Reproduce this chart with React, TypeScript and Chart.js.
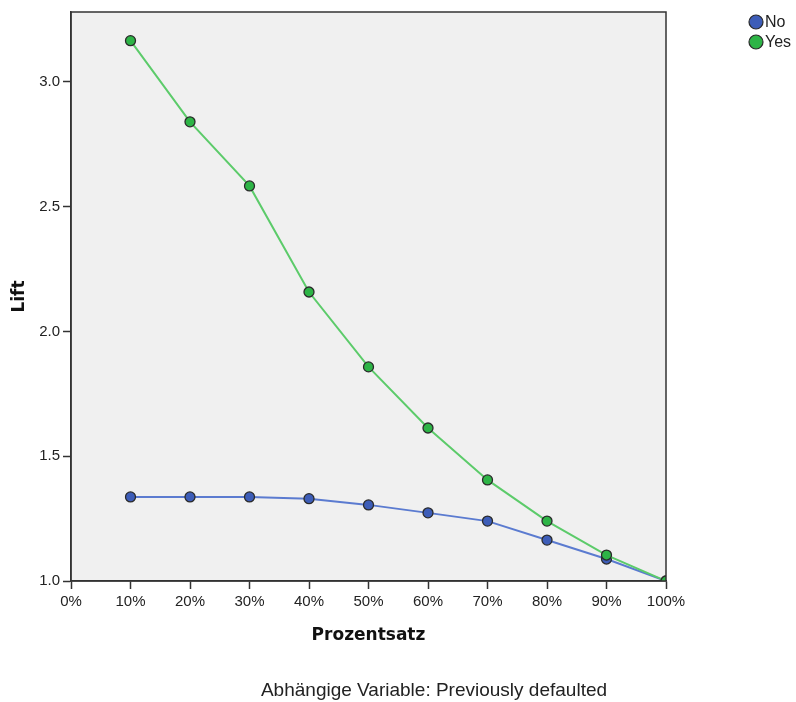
import React, { useEffect, useRef } from "react";
import { Chart, registerables } from "chart.js";

Chart.register(...registerables);

const percentages = [10, 20, 30, 40, 50, 60, 70, 80, 90, 100];
const liftNo = [1.337, 1.337, 1.337, 1.33, 1.305, 1.273, 1.24, 1.164, 1.088, 1.0];
const liftYes = [3.165, 2.84, 2.583, 2.158, 1.858, 1.613, 1.405, 1.24, 1.104, 1.0];
const seriesNames = ["No", "Yes"];
const xTitle = "Prozentsatz";
const yTitle = "Lift";
const footnote = "Abhängige Variable: Previously defaulted";

const blueFill = "#3d5db8";
const blueLine = "#5b7bd0";
const greenFill = "#2db446";
const greenLine = "#5ccb6a";
const pointBorder = "#2a2a2a";

export default function App() {
  const ref = useRef<HTMLCanvasElement | null>(null);

  useEffect(() => {
    if (!ref.current) return;
    const bgPlugin = {
      id: "plotBg",
      beforeDraw(chart: any) {
        const { ctx, chartArea: a } = chart;
        ctx.save();
        ctx.fillStyle = "#f0f0f0";
        ctx.fillRect(a.left, a.top, a.right - a.left, a.bottom - a.top);
        ctx.restore();
      },
      afterDraw(chart: any) {
        const { ctx, chartArea: a } = chart;
        ctx.save();
        ctx.strokeStyle = "#333333";
        ctx.lineWidth = 1.5;
        ctx.strokeRect(a.left, a.top, a.right - a.left, a.bottom - a.top);
        // legend
        const fills = [blueFill, greenFill];
        ctx.font = "16px 'Liberation Sans', Arial, sans-serif";
        ctx.textBaseline = "middle";
        ctx.textAlign = "left";
        seriesNames.forEach((name, i) => {
          const cy = 22 + i * 20;
          ctx.beginPath();
          ctx.arc(756, cy, 7, 0, Math.PI * 2);
          ctx.fillStyle = fills[i];
          ctx.fill();
          ctx.lineWidth = 1.2;
          ctx.strokeStyle = pointBorder;
          ctx.stroke();
          ctx.fillStyle = "#222222";
          ctx.fillText(name, 765, cy + 1);
        });
        // footnote
        ctx.font = "19px 'Liberation Sans', Arial, sans-serif";
        ctx.textAlign = "center";
        ctx.fillStyle = "#222222";
        ctx.fillText(footnote, 434, 691);
        ctx.restore();
      },
    };

    const chart = new Chart(ref.current, {
      type: "line",
      data: {
        datasets: [
          {
            label: seriesNames[0],
            data: percentages.map((p, i) => ({ x: p, y: liftNo[i] })),
            borderColor: blueLine,
            backgroundColor: blueFill,
            pointBackgroundColor: blueFill,
            pointBorderColor: pointBorder,
            pointBorderWidth: 1.3,
            pointRadius: 5,
            borderWidth: 2,
            tension: 0,
            order: 2,
            clip: 0,
          },
          {
            label: seriesNames[1],
            data: percentages.map((p, i) => ({ x: p, y: liftYes[i] })),
            borderColor: greenLine,
            backgroundColor: greenFill,
            pointBackgroundColor: greenFill,
            pointBorderColor: pointBorder,
            pointBorderWidth: 1.3,
            pointRadius: 5,
            borderWidth: 2,
            tension: 0,
            order: 1,
            clip: 0,
          },
        ],
      },
      options: {
        responsive: false,
        animation: false,
        devicePixelRatio: 1,
        layout: { padding: { left: 0, top: 12, right: 130, bottom: 0 } },
        plugins: {
          legend: { display: false },
          tooltip: { enabled: false },
        },
        scales: {
          x: {
            type: "linear",
            min: 0,
            max: 100,
            afterFit(scale: any) {
              scale.height = 121;
            },
            ticks: {
              stepSize: 10,
              callback: (v: any) => `${v}%`,
              color: "#222222",
              font: { family: "'Liberation Sans', Arial, sans-serif", size: 15 },
              padding: 4,
              maxRotation: 0,
            },
            grid: {
              drawOnChartArea: false,
              drawTicks: true,
              tickLength: 8,
              tickColor: "#333333",
              tickWidth: 1.5,
            },
            border: { display: true, color: "#333333", width: 1.5 },
            title: {
              display: true,
              text: xTitle,
              color: "#111111",
              font: { family: "'DejaVu Sans', sans-serif", size: 17, weight: "bold" },
              padding: { top: 56, bottom: 56 },
            },
          },
          y: {
            type: "linear",
            min: 1.0,
            max: 3.28,
            afterFit(scale: any) {
              scale.width = 71;
            },
            ticks: {
              stepSize: 0.5,
              includeBounds: false,
              callback: (v: any) => Number(v).toFixed(1),
              color: "#222222",
              font: { family: "'Liberation Sans', Arial, sans-serif", size: 15 },
              padding: 3,
            },
            grid: {
              drawOnChartArea: false,
              drawTicks: true,
              tickLength: 8,
              tickColor: "#333333",
              tickWidth: 1.5,
            },
            border: { display: true, color: "#333333", width: 1.5 },
            title: {
              display: true,
              text: yTitle,
              color: "#111111",
              font: { family: "'DejaVu Sans', sans-serif", size: 17, weight: "bold" },
              padding: { top: 9, bottom: 9 },
            },
          },
        },
      },
      plugins: [bgPlugin],
    });
    return () => chart.destroy();
  }, []);

  return (
    <div style={{ position: "absolute", left: 0, top: 0, width: 796, height: 702, background: "#ffffff" }}>
      <canvas ref={ref} width={796} height={702} style={{ display: "block" }} />
    </div>
  );
}
